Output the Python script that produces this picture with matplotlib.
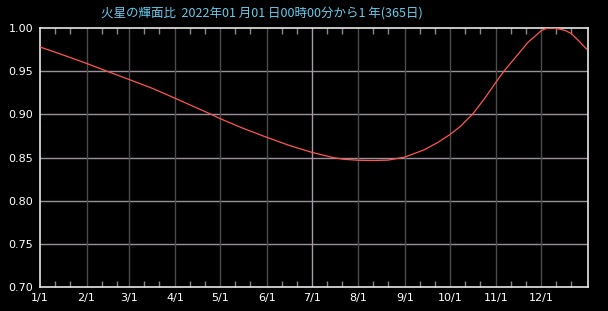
import datetime as dt
import matplotlib
matplotlib.use("Agg")
import matplotlib.pyplot as plt
import matplotlib.dates as mdates
from matplotlib.ticker import FuncFormatter

title = "火星の輝面比  2022年01 月01 日00時00分から1 年(365日)"

dates = ["2022-01-01", "2022-01-16", "2022-02-01", "2022-02-13", "2022-03-01",
         "2022-03-17", "2022-04-01", "2022-04-16", "2022-04-25", "2022-05-01",
         "2022-05-16", "2022-06-01", "2022-06-16", "2022-07-01", "2022-07-15",
         "2022-07-22", "2022-08-01", "2022-08-11", "2022-08-21", "2022-09-01",
         "2022-09-14", "2022-09-23", "2022-10-01", "2022-10-08", "2022-10-16",
         "2022-10-24", "2022-11-01", "2022-11-06", "2022-11-15", "2022-11-22",
         "2022-12-01", "2022-12-04", "2022-12-08", "2022-12-13", "2022-12-17",
         "2022-12-21", "2022-12-27", "2022-12-31"]
ratio = [0.978, 0.969, 0.959, 0.951, 0.9406,
         0.930, 0.9186, 0.907, 0.900, 0.895,
         0.884, 0.8734, 0.864, 0.856, 0.850,
         0.848, 0.8468, 0.8465, 0.8470, 0.8505,
         0.859, 0.8675, 0.8765, 0.886, 0.900,
         0.918, 0.938, 0.950, 0.9687, 0.9834,
         0.997, 0.9993, 1.000, 0.9988, 0.997,
         0.9935, 0.983, 0.9757]
y_ticks = [0.70, 0.75, 0.80, 0.85, 0.90, 0.95, 1.00]

x = [dt.datetime.strptime(d, "%Y-%m-%d") for d in dates]
start = dt.datetime(2022, 1, 1)
end = dt.datetime(2023, 1, 1)

fig = plt.figure(figsize=(6.08, 3.11), dpi=100, facecolor="black")
ax = fig.add_axes([40 / 608, 24 / 311, 548 / 608, 259 / 311], facecolor="black")

# grid
for y in y_ticks[1:-1]:
    ax.axhline(y, color="#9a909a", lw=1.0, zorder=1)
months = [dt.datetime(2022, m, 1) for m in range(2, 13)]
for m in months:
    c = "#a898a8" if m.month == 7 else "#4c4c4c"
    ax.axvline(m, color=c, lw=1.0, zorder=1)

ax.plot(x, ratio, color="#ff5555", lw=0.9, zorder=3)

ax.set_xlim(start, end)
ax.set_ylim(0.70, 1.00)
ax.set_yticks(y_ticks)
ax.yaxis.set_major_formatter(FuncFormatter(lambda v, p: f"{v:.2f}"))
ax.tick_params(axis="y", length=0, pad=5, colors="white", labelsize=8)

ax.xaxis.set_major_locator(mdates.MonthLocator())
ax.xaxis.set_minor_locator(mdates.DayLocator(bymonthday=[11, 21]))
ax.xaxis.set_major_formatter(FuncFormatter(
    lambda v, p: "" if v >= mdates.date2num(end) else
    f"{mdates.num2date(v).month}/{mdates.num2date(v).day}"))
ax.tick_params(axis="x", which="major", length=0, pad=4, colors="white", labelsize=8)
ax.tick_params(axis="x", which="minor", direction="in", length=4, width=1,
               color="#888888", top=True, bottom=True)

for s in ax.spines.values():
    s.set_color("#e8e8e8")
    s.set_linewidth(1.2)

fig.text(262 / 608, 1 - 14 / 311, title, color="#66ccee", fontsize=9,
         ha="center", va="center", family=["Noto Sans CJK JP", "DejaVu Sans"])

fig.savefig("out.png", dpi=100, facecolor="black")
